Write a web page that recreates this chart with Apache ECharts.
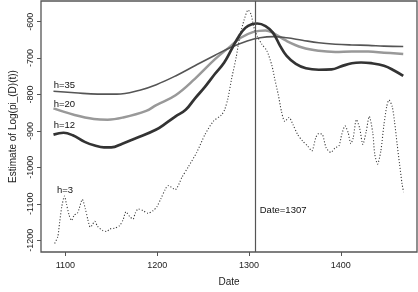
<!DOCTYPE html>
<html><head><meta charset="utf-8">
<script src="https://cdn.jsdelivr.net/npm/echarts@6/dist/echarts.min.js"></script>
<style>html,body{margin:0;padding:0;background:#fff}#c{width:418px;height:292px}</style>
</head><body><div id="c"></div>
<script>
var xTicks = [1100, 1200, 1300, 1400];
var yTicks = [-1200, -1100, -1000, -900, -800, -700, -600];

var h3Dates = [1088.3,1091.8,1093.6,1096,1099,1101,1104,1106.7,1109.6,1113,1115,1118.4,1121.6,1124.5,1127,1129,1132,1135,1140.4,1144.7,1148.6,1153.5,1159,1162.8,1166,1170,1173.7,1176,1179.4,1184.7,1190,1195.4,1199.7,1204,1209,1212,1219.5,1227,1234,1243,1252,1261,1270,1273.4,1277,1281,1286,1290,1294.7,1299,1302.4,1305,1309,1314,1319.5,1325,1328,1332,1335.4,1339,1343.6,1348,1353,1358.5,1363.8,1368.4,1372.7,1376,1380,1384,1389,1394,1398,1401,1404.6,1408,1411,1413.5,1417,1420.5,1424,1427.7,1431,1434.8,1437,1440,1443.6,1447,1450,1452.5,1456,1458.5,1461.4,1464,1466.7,1468.4];
var h3Values = [-1209,-1189,-1153,-1108,-1079,-1099,-1131,-1146,-1131,-1126,-1113,-1088,-1113,-1144,-1164,-1159,-1148,-1162,-1173,-1176,-1169,-1167,-1160,-1144,-1122,-1135,-1142,-1126,-1114,-1119,-1126,-1119,-1108,-1086,-1059,-1050,-1061,-1027,-998,-959,-910,-874,-856,-842,-811,-757,-698,-640,-595,-568,-581,-613,-640,-662,-680,-721,-757,-802,-847,-874,-863,-883,-910,-928,-941,-955,-919,-907,-910,-946,-959,-946,-941,-910,-886,-905,-935,-919,-869,-892,-937,-901,-860,-905,-964,-991,-955,-883,-833,-815,-833,-874,-937,-991,-1045,-1068];

var h12Dates = [1087,1098,1108,1121,1132,1142,1150,1162,1178,1199,1210,1220,1231,1241,1252,1263,1273,1282,1289,1296,1303,1309,1318,1326,1334,1341,1351,1362,1376,1390,1401,1412,1422,1433,1447,1458,1468];
var h12Values = [-910,-905,-912,-930,-940,-945,-945,-935,-919,-896,-878,-860,-842,-811,-779,-743,-712,-671,-640,-617,-607,-605,-612,-630,-667,-694,-716,-728,-732,-731,-722,-714,-712,-714,-721,-734,-749];

var h20Dates = [1087,1110,1131,1146,1163,1188,1199,1220,1241,1263,1280,1291,1305,1318,1327,1341,1358,1376,1394,1412,1430,1447,1468];
var h20Values = [-838,-856,-867,-869,-863,-845,-829,-802,-757,-703,-667,-644,-628,-624,-632,-653,-671,-680,-683,-682,-682,-685,-689];

var h35Dates = [1087,1110,1135,1156,1181,1199,1220,1241,1263,1280,1298,1312,1327,1341,1358,1376,1394,1412,1430,1447,1468];
var h35Values = [-791,-795,-799,-799,-788,-773,-749,-721,-692,-671,-653,-644,-641,-644,-651,-658,-662,-664,-665,-667,-668];

var markDate = 1307;
var labelTexts = ['h=35', 'h=20', 'h=12', 'h=3', 'Date=1307'];
var labelDates = [1087.2, 1087.2, 1087.2, 1090.7, 1311.7];
var labelValues = [-776, -826, -886, -1063, -1117];

function pairs(xs, ys) { return xs.map(function (x, i) { return [x, ys[i]]; }); }
function plain(v) { return String(v); }

var font = 'Liberation Sans, Arial, Helvetica, sans-serif';
var chart = echarts.init(document.getElementById('c'), null, { renderer: 'canvas' });
chart.setOption({
  animation: false,
  backgroundColor: '#fff',
  grid: { left: 32, right: 1, top: 1, bottom: 36, show: true, borderColor: '#555', borderWidth: 1.3, backgroundColor: 'transparent' },
  xAxis: {
    type: 'value', min: 1073.4, max: 1483,
    name: 'Date', nameLocation: 'middle', nameGap: 25,
    nameTextStyle: { fontFamily: font, fontSize: 10, color: '#222' },
    axisLine: { show: false },
    axisTick: { show: true, length: 4, lineStyle: { color: '#555', width: 1 }, customValues: xTicks },
    axisLabel: { fontFamily: font, fontSize: 9, color: '#222', margin: 9, customValues: xTicks, formatter: plain },
    splitLine: { show: false }
  },
  yAxis: {
    type: 'value', min: -1232.4, max: -543.2,
    name: 'Estimate of Log(pi_(D)(t))', nameLocation: 'middle', nameGap: 23, nameRotate: 90,
    nameTextStyle: { fontFamily: font, fontSize: 10, color: '#222' },
    axisLine: { show: false },
    axisTick: { show: true, length: 4, lineStyle: { color: '#555', width: 1 }, customValues: yTicks },
    axisLabel: { fontFamily: font, fontSize: 9, color: '#222', margin: 6, rotate: 90, customValues: yTicks, formatter: plain },
    splitLine: { show: false }
  },
  series: [
    { type: 'line', name: 'h=35', data: pairs(h35Dates, h35Values), showSymbol: false, smooth: 0.4,
      lineStyle: { color: '#555', width: 1.6 }, z: 3,
      markLine: { silent: true, symbol: 'none', label: { show: false },
        lineStyle: { color: '#555', width: 1.2, type: 'solid' }, data: [{ xAxis: markDate }] } },
    { type: 'line', name: 'h=20', data: pairs(h20Dates, h20Values), showSymbol: false, smooth: 0.4,
      lineStyle: { color: '#999', width: 2.5 }, z: 2 },
    { type: 'line', name: 'h=12', data: pairs(h12Dates, h12Values), showSymbol: false, smooth: 0.4,
      lineStyle: { color: '#333', width: 2.7 }, z: 4 },
    { type: 'line', name: 'h=3', data: pairs(h3Dates, h3Values), showSymbol: false, smooth: 0.25,
      lineStyle: { color: '#3a3a3a', width: 1.1, type: [1.1, 1.9] }, z: 5 },
    { type: 'scatter', name: 'labels', symbolSize: 0, silent: true,
      itemStyle: { color: '#222', opacity: 1 },
      data: labelTexts.map(function (t, i) { return { value: [labelDates[i], labelValues[i]], name: t }; }),
      label: { show: true, position: 'right', distance: 0, formatter: '{b}',
        fontFamily: font, fontSize: 9.5, color: '#111' }, z: 6 }
  ]
});
</script></body></html>
